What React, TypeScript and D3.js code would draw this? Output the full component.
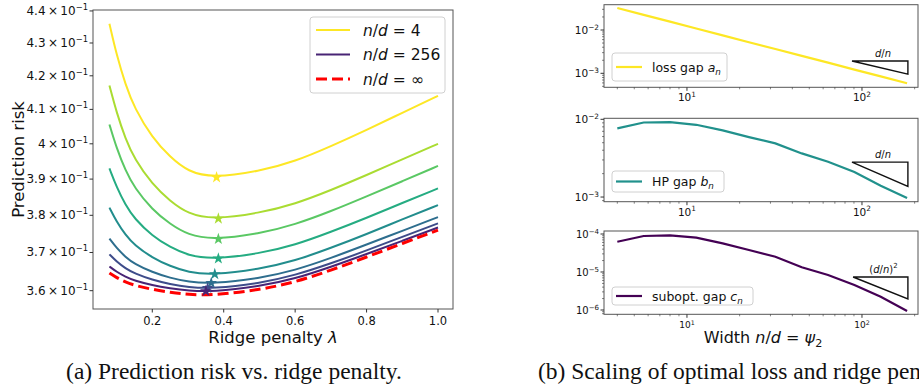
import { useRef, useEffect } from 'react';
import * as d3 from 'd3';

const W = 919;
const H = 388;
const SANS = '"DejaVu Sans", sans-serif';
const SERIF = '"Liberation Serif", "Times New Roman", serif';

// ---- (a) prediction risk vs ridge penalty ----
const LAMBDA = [0.08, 0.1, 0.125, 0.15, 0.2, 0.25, 0.3, 0.37, 0.5, 0.6, 0.7, 0.8, 0.9, 1.0];
const RISK_ND4 = [0.436, 0.4264, 0.4173, 0.4104, 0.4017, 0.3962, 0.3921, 0.3903, 0.3922, 0.395, 0.3993, 0.404, 0.409, 0.414];
const RISK_2 = [0.4171, 0.4091, 0.4014, 0.3957, 0.3885, 0.3839, 0.3804, 0.3789, 0.3806, 0.3831, 0.3869, 0.3911, 0.3956, 0.4];
const RISK_3 = [0.4056, 0.3988, 0.3924, 0.3876, 0.3815, 0.3776, 0.3747, 0.3734, 0.375, 0.3775, 0.3811, 0.3852, 0.3894, 0.3937];
const RISK_4 = [0.393, 0.3878, 0.3828, 0.3791, 0.3744, 0.3714, 0.3692, 0.3682, 0.3697, 0.372, 0.3755, 0.3793, 0.3834, 0.3874];
const RISK_5 = [0.3821, 0.3783, 0.3747, 0.372, 0.3686, 0.3664, 0.3648, 0.3641, 0.3656, 0.3678, 0.3712, 0.3749, 0.3789, 0.3828];
const RISK_6 = [0.3737, 0.3712, 0.3688, 0.367, 0.3648, 0.3633, 0.3623, 0.3618, 0.3632, 0.3653, 0.3685, 0.3721, 0.3758, 0.3795];
const RISK_7 = [0.3695, 0.3676, 0.3658, 0.3645, 0.3628, 0.3617, 0.3609, 0.3605, 0.3619, 0.364, 0.3671, 0.3705, 0.3742, 0.3778];
const RISK_ND256 = [0.3663, 0.3649, 0.3636, 0.3626, 0.3614, 0.3606, 0.36, 0.3597, 0.3611, 0.3631, 0.3662, 0.3696, 0.3731, 0.3767];
const RISK_INF = [0.3646, 0.3634, 0.3622, 0.3614, 0.3603, 0.3596, 0.359, 0.3588, 0.3602, 0.3622, 0.3653, 0.3688, 0.3724, 0.376];
const CURVES = [RISK_ND4, RISK_2, RISK_3, RISK_4, RISK_5, RISK_6, RISK_7, RISK_ND256];
const STAR_LAMBDA = [0.38, 0.385, 0.385, 0.385, 0.375, 0.365, 0.355, 0.35];
const STAR_RISK = [0.3905, 0.3791, 0.3736, 0.3684, 0.3643, 0.362, 0.3607, 0.3599];
const RISK_TICKS = [0.36, 0.37, 0.38, 0.39, 0.4, 0.41, 0.42, 0.43, 0.44];
const RISK_TICK_LABELS = ['3.6', '3.7', '3.8', '3.9', '4', '4.1', '4.2', '4.3', '4.4'];
const LAMBDA_TICKS = [0.2, 0.4, 0.6, 0.8, 1.0];

// ---- (b) scaling with width ----
const WIDTH_ND = [4, 5.66, 8, 11.3, 16, 22.6, 32, 45.3, 64, 90.5, 128, 181];
const LOSS_GAP = [0.0322, 0.0224, 0.0156, 0.01082, 0.00752, 0.00523, 0.00363, 0.00253, 0.00176, 0.00122, 0.000849, 0.00059];
const HP_GAP = [0.00765, 0.0091, 0.0092, 0.0085, 0.0072, 0.0059, 0.0049, 0.00364, 0.00285, 0.0021, 0.0014, 0.00097];
const SUBOPT_GAP = [6.27e-5, 8.86e-5, 9.24e-5, 8.0e-5, 5.69e-5, 3.79e-5, 2.53e-5, 1.33e-5, 8.34e-6, 4.55e-6, 2.24e-6, 9.4e-7];

type Part = { t: string; i?: boolean; sup?: boolean; sub?: boolean };

function rich(text: any, parts: Part[], size: number) {
  let shift = 0;
  parts.forEach(p => {
    const target = p.sup ? -0.42 * size : p.sub ? 0.25 * size : 0;
    const ts = text.append('tspan').text(p.t);
    if (target !== shift) { ts.attr('dy', target - shift); shift = target; }
    if (p.i) ts.attr('font-style', 'italic');
    if (p.sup || p.sub) ts.attr('font-size', size * 0.7);
  });
}

function label(g: any, x: number, y: number, parts: Part[], size: number, anchor = 'start', family = SANS) {
  const t = g.append('text')
    .attr('x', x).attr('y', y)
    .attr('text-anchor', anchor)
    .attr('font-family', family)
    .attr('font-size', size)
    .attr('fill', '#111');
  rich(t, parts, size);
  return t;
}

export default function App() {
  const svgRef = useRef<SVGSVGElement>(null);

  useEffect(() => {
    const el = svgRef.current;
    if (!el) return;
    el.innerHTML = '';
    const svg = d3.select(el);

    // ================= panel (a) =================
    const L = { x0: 93, x1: 453, y0: 10, y1: 309 };
    const x = d3.scaleLinear().domain([0.034, 1.042]).range([L.x0, L.x1]);
    const y = d3.scaleLog().domain([0.3553, 0.4403]).range([L.y1, L.y0]);
    const ga = svg.append('g');

    const nCurves = CURVES.length;
    const color = (i: number) => d3.interpolateViridis(1 - i * 0.9 / (nCurves - 1));

    // smooth B-spline through the read-off points
    const line = d3.line<number>()
      .x((_, i) => x(LAMBDA[i]))
      .y(d => y(d))
      .curve(d3.curveBasis);

    CURVES.forEach((c, i) => {
      ga.append('path').attr('d', line(c)).attr('fill', 'none')
        .attr('stroke', color(i)).attr('stroke-width', 2);
    });
    ga.append('path').attr('d', line(RISK_INF)).attr('fill', 'none')
      .attr('stroke', '#ff0000').attr('stroke-width', 3).attr('stroke-dasharray', '11,5');

    const star = d3.symbol().type(d3.symbolStar).size(44);
    STAR_LAMBDA.forEach((l, i) => {
      ga.append('path').attr('d', star())
        .attr('transform', `translate(${x(l)},${y(STAR_RISK[i])})`)
        .attr('fill', color(i));
    });

    ga.append('rect').attr('x', L.x0).attr('y', L.y0)
      .attr('width', L.x1 - L.x0).attr('height', L.y1 - L.y0)
      .attr('fill', 'none').attr('stroke', '#555').attr('stroke-width', 1);

    RISK_TICKS.forEach((v, i) => {
      const yy = y(v);
      ga.append('line').attr('x1', L.x0 - 3.5).attr('x2', L.x0).attr('y1', yy).attr('y2', yy)
        .attr('stroke', '#333');
      label(ga, L.x0 - 5, yy + 4, [{ t: `${RISK_TICK_LABELS[i]}\u2009×\u200910` }, { t: '−1', sup: true }], 12, 'end');
    });
    LAMBDA_TICKS.forEach(v => {
      const xx = x(v);
      ga.append('line').attr('x1', xx).attr('x2', xx).attr('y1', L.y1).attr('y2', L.y1 + 3.5)
        .attr('stroke', '#333');
      label(ga, xx, L.y1 + 16, [{ t: d3.format('.1f')(v) }], 11.5, 'middle');
    });

    label(ga, (L.x0 + L.x1) / 2, 343, [{ t: 'Ridge penalty ' }, { t: 'λ', i: true }], 16.5, 'middle');
    label(ga, 0, 0, [{ t: 'Prediction risk' }], 16.5, 'middle')
      .attr('transform', `translate(24,${(L.y0 + L.y1) / 2}) rotate(-90)`);

    // legend (a)
    const lg = ga.append('g');
    lg.append('rect').attr('x', 310).attr('y', 17).attr('width', 135).attr('height', 76)
      .attr('rx', 3).attr('fill', '#fff').attr('fill-opacity', 0.8)
      .attr('stroke', '#d0d0d0');
    const legendRows = [
      { c: color(0), dash: null, parts: [{ t: 'n', i: true }, { t: '/' }, { t: 'd', i: true }, { t: ' = 4' }] },
      { c: color(nCurves - 1), dash: null, parts: [{ t: 'n', i: true }, { t: '/' }, { t: 'd', i: true }, { t: ' = 256' }] },
      { c: '#ff0000', dash: '11,5', parts: [{ t: 'n', i: true }, { t: '/' }, { t: 'd', i: true }, { t: ' = ∞' }] },
    ];
    legendRows.forEach((r, i) => {
      const yy = 30 + i * 24.5;
      const ln = lg.append('line').attr('x1', 316).attr('x2', 350).attr('y1', yy).attr('y2', yy)
        .attr('stroke', r.c).attr('stroke-width', r.dash ? 3 : 2);
      if (r.dash) ln.attr('stroke-dasharray', r.dash);
      label(lg, 363, yy + 5.5, r.parts as Part[], 15.5);
    });

    label(ga, 234, 379, [{ t: '(a) Prediction risk vs. ridge penalty.' }], 23.5, 'middle', SERIF);

    // ================= panel (b) =================
    const R = { x0: 604, x1: 918 };
    const xr = d3.scaleLog().domain([3.357, 209]).range([R.x0, R.x1]);
    const panels = [
      {
        data: LOSS_GAP, color: '#fde725', top: 4.7, bottom: 87.3, domain: [0.0384, 4.75e-4],
        yTicks: [1e-2, 1e-3], tickFont: 10.5, xFont: 10.5,
        legend: { x: 612, y: 53, w: 115, h: 28, parts: [{ t: 'loss gap ' }, { t: 'a', i: true }, { t: 'n', i: true, sub: true }] },
        tri: { x0: 87.7, x1: 183, yTop: 1.92e-3, yBot: 9.6e-4, parts: [{ t: 'd', i: true }, { t: '/' }, { t: 'n', i: true }] },
      },
      {
        data: HP_GAP, color: '#21918c', top: 118.3, bottom: 201.7, domain: [0.0103, 8.71e-4],
        yTicks: [1e-2, 1e-3], tickFont: 10.5, xFont: 10.5,
        legend: { x: 612, y: 171, w: 112, h: 21, parts: [{ t: 'HP gap ' }, { t: 'b', i: true }, { t: 'n', i: true, sub: true }] },
        tri: { x0: 87.7, x1: 183, yTop: 2.81e-3, yBot: 1.37e-3, parts: [{ t: 'd', i: true }, { t: '/' }, { t: 'n', i: true }] },
      },
      {
        data: SUBOPT_GAP, color: '#440154', top: 231, bottom: 314.3, domain: [1.2e-4, 7.7e-7],
        yTicks: [1e-4, 1e-5, 1e-6], tickFont: 10, xFont: 9,
        legend: { x: 612, y: 287, w: 141, h: 18, parts: [{ t: 'subopt. gap ' }, { t: 'c', i: true }, { t: 'n', i: true, sub: true }] },
        tri: { x0: 89, x1: 183, yTop: 7.38e-6, yBot: 1.95e-6, parts: [{ t: '(' }, { t: 'd', i: true }, { t: '/' }, { t: 'n', i: true }, { t: ')' }, { t: '2', sup: true }] },
      },
    ];

    const xMajor = [10, 100];
    const xMinor = [4, 5, 6, 7, 8, 9, 20, 30, 40, 50, 60, 70, 80, 90, 200];

    panels.forEach(p => {
      const g = svg.append('g');
      const yr = d3.scaleLog().domain(p.domain).range([p.top, p.bottom]);
      const pl = d3.line<number>().x((_, i) => xr(WIDTH_ND[i])).y(d => yr(d));
      g.append('path').attr('d', pl(p.data)).attr('fill', 'none')
        .attr('stroke', p.color).attr('stroke-width', 2.2);

      // slope triangle
      const t = p.tri;
      const tri = [[t.x0, t.yTop], [t.x1, t.yTop], [t.x1, t.yBot]]
        .map(([a, b]) => `${xr(a)},${yr(b)}`).join(' ');
      g.append('polygon').attr('points', tri).attr('fill', 'none')
        .attr('stroke', '#111').attr('stroke-width', 1.4);
      label(g, (xr(t.x0) + xr(t.x1)) / 2 + 3, yr(t.yTop) - 4.5, t.parts as Part[], 10, 'middle');

      g.append('rect').attr('x', R.x0).attr('y', p.top)
        .attr('width', R.x1 - R.x0).attr('height', p.bottom - p.top)
        .attr('fill', 'none').attr('stroke', '#555');

      // y ticks
      const [hi, lo] = p.domain;
      const yMinor: number[] = [];
      for (let e = -7; e <= -1; e++) {
        for (let k = 2; k <= 9; k++) {
          const v = k * Math.pow(10, e);
          if (v < hi && v > lo) yMinor.push(v);
        }
      }
      yMinor.forEach(v => {
        g.append('line').attr('x1', R.x0 - 2).attr('x2', R.x0).attr('y1', yr(v)).attr('y2', yr(v))
          .attr('stroke', '#333').attr('stroke-width', 0.6);
      });
      p.yTicks.forEach(v => {
        const yy = yr(v);
        g.append('line').attr('x1', R.x0 - 3.5).attr('x2', R.x0).attr('y1', yy).attr('y2', yy)
          .attr('stroke', '#333');
        label(g, R.x0 - 5, yy + 4, [{ t: '10' }, { t: `−${Math.round(-Math.log10(v))}`, sup: true }], p.tickFont, 'end');
      });

      // x ticks
      xMinor.forEach(v => {
        g.append('line').attr('x1', xr(v)).attr('x2', xr(v)).attr('y1', p.bottom).attr('y2', p.bottom + 2)
          .attr('stroke', '#333').attr('stroke-width', 0.6);
      });
      xMajor.forEach(v => {
        const xx = xr(v);
        g.append('line').attr('x1', xx).attr('x2', xx).attr('y1', p.bottom).attr('y2', p.bottom + 3.5)
          .attr('stroke', '#333');
        label(g, xx, p.bottom + 14, [{ t: '10' }, { t: `${Math.round(Math.log10(v))}`, sup: true }], p.xFont, 'middle');
      });

      // legend
      const lgd = p.legend;
      g.append('rect').attr('x', lgd.x).attr('y', lgd.y).attr('width', lgd.w).attr('height', lgd.h)
        .attr('rx', 3).attr('fill', '#fff').attr('fill-opacity', 0.8).attr('stroke', '#d0d0d0');
      const ly = lgd.y + lgd.h / 2;
      g.append('line').attr('x1', lgd.x + 4).attr('x2', lgd.x + 30).attr('y1', ly).attr('y2', ly)
        .attr('stroke', p.color).attr('stroke-width', 2.2);
      label(g, lgd.x + 40, ly + 4.5, lgd.parts as Part[], 12.5);
    });

    label(svg, 763, 343, [{ t: 'Width ' }, { t: 'n', i: true }, { t: '/' }, { t: 'd', i: true }, { t: ' = ' }, { t: 'ψ', i: true }, { t: '2', sub: true }], 16, 'middle');
    label(svg, 538, 379, [{ t: '(b) Scaling of optimal loss and ridge penalty.' }], 23.5, 'start', SERIF);
  }, []);

  return (
    <div style={{ position: 'absolute', left: 0, top: 0, width: W, height: H, overflow: 'hidden', background: '#fff' }}>
      <svg ref={svgRef} width={W} height={H} style={{ display: 'block' }} />
    </div>
  );
}
